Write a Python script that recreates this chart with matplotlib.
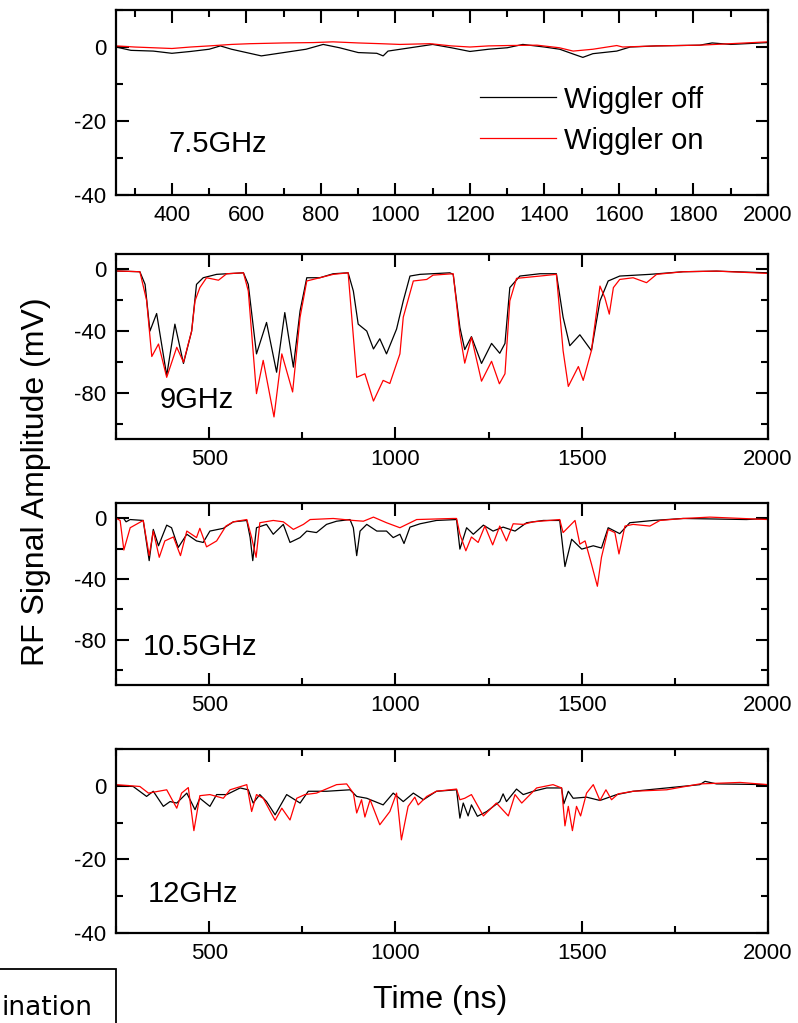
import matplotlib
matplotlib.use("Agg")
import matplotlib.pyplot as plt
from matplotlib.patches import Rectangle
from matplotlib.ticker import MultipleLocator

plt.rcParams['font.family'] = ['Liberation Sans', 'DejaVu Sans']
plt.rcParams['axes.unicode_minus'] = False

# ---- 7.5 GHz ----
t_75_off = [250, 290, 350, 400, 450, 500, 530, 560, 600, 640, 700, 760, 806, 850, 900, 950, 967, 980,
            1040, 1100, 1150, 1200, 1250, 1300, 1342, 1400, 1441, 1480, 1503, 1530, 1594, 1630, 1700,
            1817, 1850, 1900, 2000]
v_75_off = [0, -0.9, -1.1, -1.7, -1.2, -0.6, 0.3, -0.6, -1.5, -2.4, -1.5, -0.6, 0.7, -0.2, -1.5, -1.7, -2.4, -1.1,
            -0.2, 0.7, -0.2, -1.2, -0.6, -0.2, 0.7, 0, -0.6, -2.0, -2.8, -1.8, -1.1, 0, 0.3,
            0.5, 1.1, 0.7, 1.2]
t_75_on = [250, 300, 350, 400, 450, 500, 560, 610, 700, 780, 832, 900, 960, 1012, 1093, 1150, 1200, 1250,
           1300, 1380, 1440, 1477, 1530, 1594, 1610, 1700, 1817, 1900, 2000]
v_75_on = [0.3, 0, -0.2, -0.4, 0, 0.3, 0.7, 0.9, 1.1, 1.2, 1.4, 1.1, 0.9, 0.7, 0.9, 0.3, 0, 0.3,
           0.4, 0.5, -0.2, -1.1, -0.6, 0.4, 0, 0.3, 0.5, 0.9, 1.4]

# ---- 9 GHz ----
t_9_off = [250, 314, 328, 341, 359, 386, 408, 431, 453, 466, 484, 520, 592, 605, 627, 654, 681, 703, 726,
           744, 762, 797, 833, 873, 887, 900, 923, 941, 958, 976, 1003, 1021, 1039, 1066, 1146, 1155,
           1173, 1186, 1204, 1231, 1258, 1280, 1294, 1307, 1334, 1388, 1432, 1450, 1468, 1495, 1526,
           1549, 1571, 1602, 1683, 1772, 1862, 2000]
v_9_off = [-1, -1.5, -9.7, -40, -28.6, -68.8, -35.5, -61, -40, -9.7, -5.4, -3.2, -2.2, -9.7, -54.8, -34.4, -66.7, -28, -63.4,
           -26.9, -5.4, -5.4, -2.8, -2.2, -14, -35.5, -40, -51.6, -45, -54.8, -38.7, -20.4, -4.3, -3.2, -2.2, -3.2,
           -37.6, -52, -43.6, -61, -48, -54.4, -48, -11.8, -4.3, -2.8, -2.8, -31, -49.5, -42.4, -52.7,
           -20.4, -7.5, -4.3, -3.2, -1.5, -1.1, -2.2]
t_9_on = [250, 314, 332, 346, 364, 386, 413, 431, 453, 462, 475, 493, 525, 547, 592, 605, 627, 645, 674,
          695, 724, 744, 762, 797, 833, 873, 896, 918, 941, 967, 985, 1012, 1021, 1048, 1084, 1101,
          1155, 1173, 1186, 1204, 1231, 1258, 1279, 1294, 1307, 1325, 1388, 1432, 1450, 1464, 1491,
          1504, 1526, 1549, 1562, 1574, 1585, 1602, 1638, 1674, 1701, 1772, 1862, 2000]
v_9_on = [-1, -1.5, -20, -56.5, -48.4, -70, -50.5, -60.2, -40, -20.4, -11.8, -5.4, -7, -2.8, -2.2, -14, -80.6, -59, -95.7,
          -54.8, -79.5, -31, -7.5, -5.4, -3.2, -2.2, -70, -67.7, -85.4, -72, -74, -54.8, -31, -7.5, -6.5, -3.7,
          -2.8, -42, -60.8, -44, -72.5, -59.6, -74.2, -67.7, -20.4, -5.8, -4.3, -3.2, -52.7, -75.9, -63,
          -72, -52.7, -10.8, -18.3, -29, -11.8, -6.5, -5.4, -8.6, -3.2, -1.5, -1.1, -2.6]

# ---- 10.5 GHz ----
t_105_off = [250, 270, 277, 288, 323, 339, 350, 364, 386, 399, 417, 440, 466, 484, 502, 538, 565, 601,
             610, 617, 627, 654, 672, 699, 717, 744, 762, 788, 815, 842, 878, 887, 896, 905, 923, 950,
             976, 994, 1012, 1023, 1039, 1066, 1110, 1164, 1173, 1191, 1209, 1236, 1262, 1289, 1321,
             1352, 1397, 1441, 1455, 1473, 1500, 1531, 1553, 1571, 1602, 1629, 1692, 1772, 1942, 2000]
v_105_off = [0, 0, -2.4, -0.9, -1.5, -28, -7.4, -18.2, -4.6, -6.3, -19.3, -10.6, -15, -16, -8.5, -6.7, -2.4, -1.5,
             -12.8, -28, -6.3, -4.1, -10.6, -4.1, -16, -12.8, -8.5, -9.5, -4.1, -2, -0.9, -6.3, -24.7, -8.5, -4.1, -8.5,
             -8.5, -12.8, -10.6, -16.7, -5.9, -3.7, -1.5, -0.9, -20.4, -6.3, -10.6, -4.6, -8.5, -5.9, -8.5,
             -3, -1.5, -1.5, -31.9, -13.9, -20.4, -18.2, -19.7, -6.3, -10.2, -3, -1.5, -0.2, -0.9, -0.2]
t_105_on = [250, 261, 271, 288, 323, 339, 350, 366, 381, 404, 423, 440, 466, 475, 493, 520, 545, 565,
            601, 614, 626, 636, 672, 699, 726, 753, 771, 833, 887, 914, 941, 976, 1012, 1057, 1155,
            1164, 1173, 1189, 1204, 1222, 1240, 1261, 1280, 1298, 1316, 1343, 1370, 1441, 1450, 1482,
            1495, 1509, 1526, 1542, 1553, 1571, 1589, 1600, 1616, 1638, 1683, 1710, 1772, 1844, 2000]
v_105_on = [0, -1.5, -21, -6.3, -1.5, -24.7, -8.5, -25.8, -15, -12.4, -24.7, -8.5, -12.8, -6.7, -18.9, -15, -5.2, -2.4,
            -0.9, -12.8, -25.8, -3, -1.5, -2.4, -7.4, -4.1, -0.9, -0.2, -1.5, -2, 0.7, -3, -6.3, -0.9, -0.2,
            -0.2, -10.6, -21.5, -12.4, -16, -5.2, -17.6, -5.2, -15, -3.7, -4.1, -2.4, -0.9, -9.5, -1.5,
            -17.1, -15, -30.1, -44.9, -25.8, -7.4, -9.5, -23.6, -5.2, -4.1, -5.2, -1.5, -0.2, 0.7, -0.9]

# ---- 12 GHz ----
t_12_off = [250, 296, 332, 350, 377, 395, 413, 440, 462, 475, 502, 520, 547, 583, 605, 618, 636, 654,
            677, 708, 744, 766, 815, 878, 896, 923, 967, 994, 1021, 1048, 1075, 1110, 1164, 1173, 1182,
            1195, 1204, 1220, 1245, 1280, 1289, 1298, 1325, 1343, 1370, 1406, 1446, 1452, 1464, 1477,
            1513, 1549, 1594, 1638, 1728, 1817, 1831, 1862, 2000]
v_12_off = [0, -0.2, -2.9, -1.5, -5.6, -4.3, -4.7, -2, -6.5, -3.4, -5.6, -2.4, -2.4, -0.6, -1.1, -4.7, -2.4, -4.3,
            -7.9, -2.4, -4.7, -1.5, -1.5, -1.1, -2.9, -3.4, -5.2, -2, -4.3, -2, -3.8, -1.5, -1.1, -8.8, -4.7,
            -8.2, -5.2, -8.3, -7, -4.3, -2.2, -4.3, -0.9, -2.4, -1.5, -0.6, -0.6, -4.9, -1.5, -3.4,
            -3.1, -4, -2.4, -1.5, -0.6, 0.3, 1.2, 0.5, 0.3]
t_12_on = [250, 314, 337, 364, 386, 413, 426, 444, 459, 475, 502, 538, 556, 601, 614, 627, 645, 677,
           695, 717, 735, 757, 788, 842, 869, 887, 896, 909, 918, 932, 958, 985, 1003, 1016, 1034, 1052,
           1061, 1084, 1110, 1164, 1173, 1186, 1204, 1236, 1271, 1303, 1321, 1339, 1379, 1423, 1446,
           1455, 1464, 1475, 1486, 1497, 1513, 1531, 1549, 1565, 1580, 1598, 1638, 1728, 1817, 1925, 2000]
v_12_on = [0.3, -0.2, -2, -1.5, -1.1, -6.1, -2, -0.5, -12.2, -2.7, -2.4, -3.4, -1.1, 0.3, -7, -2.4, -3.4, -9.4,
           -6.1, -9.3, -3.4, -2.4, -2, 0.3, 0.5, -2, -7.4, -3.8, -8.5, -3.8, -10.6, -7, -2, -14.7, -5.6, -3.1,
           -5.2, -2.9, -1.5, -0.9, -3.8, -3.4, -2.4, -8.2, -4.7, -8.2, -2.4, -4.7, -0.6, 0.3, -0.6,
           -10.9, -5.6, -12.2, -5.6, -8.2, -2, 0.3, -4, -1.1, -3.8, -2.2, -1.5, -1.1, 0.5, 0.9, 0.3]

panels = [
    ("7.5GHz", t_75_off, v_75_off, t_75_on, v_75_on, (-40, 10), 20, 10, 200, 100, 0.232),
    ("9GHz", t_9_off, v_9_off, t_9_on, v_9_on, (-110, 10), 40, 20, 500, 250, 0.168),
    ("10.5GHz", t_105_off, v_105_off, t_105_on, v_105_on, (-110, 10), 40, 20, 500, 250, 0.165),
    ("12GHz", t_12_off, v_12_off, t_12_on, v_12_on, (-40, 10), 20, 10, 500, 250, 0.168),
]
label_x = [0.08, 0.067, 0.041, 0.049]

# axes boxes in figure fractions [left, bottom, width, height]
boxes = [
    [0.1454, 0.8094, 0.817, 0.1808],
    [0.1454, 0.5709, 0.817, 0.1808],
    [0.1454, 0.3304, 0.817, 0.1779],
    [0.1454, 0.0880, 0.817, 0.1799],
]

fig = plt.figure(figsize=(7.98, 10.23), dpi=100)

for i, (name, t_off, v_off, t_on, v_on, ylim, ymaj, ymin, xmaj, xmin, ly) in enumerate(panels):
    ax = fig.add_axes(boxes[i])
    ax.plot(t_off, v_off, color="black", lw=0.9, label="Wiggler off")
    ax.plot(t_on, v_on, color="red", lw=0.9, label="Wiggler on")
    ax.set_xlim(250, 2000)
    ax.set_ylim(*ylim)
    ax.xaxis.set_major_locator(MultipleLocator(xmaj))
    ax.xaxis.set_minor_locator(MultipleLocator(xmin))
    ax.yaxis.set_major_locator(MultipleLocator(ymaj))
    ax.yaxis.set_minor_locator(MultipleLocator(ymin))
    ax.tick_params(which="both", direction="in", top=True, right=True, width=1.5, labelsize=16, pad=7)
    ax.tick_params(which="major", length=9)
    ax.tick_params(which="minor", length=5)
    for s in ax.spines.values():
        s.set_linewidth(1.6)
    ax.text(label_x[i], ly, name, transform=ax.transAxes, fontsize=21, va="baseline", ha="left")
    if i == 0:
        ax.legend(loc="center left", bbox_to_anchor=(0.558, 0.405), frameon=False, fontsize=21,
                  handlelength=2.6, handletextpad=0.3, borderpad=0, borderaxespad=0, labelspacing=0.45)

fig.text(36 / 798, 1 - 482 / 1023, "RF Signal Amplitude (mV)", rotation=90, fontsize=23,
         ha="center", va="center")
fig.text(440 / 798, 1 - 1000 / 1023, "Time (ns)", fontsize=23, ha="center", va="center")

# clipped box in the lower left corner
fig.patches.append(Rectangle((-0.1, -0.1), 0.1 + 116 / 798, 0.1 + 1 - 969 / 1023, transform=fig.transFigure,
                             fill=False, edgecolor="black", lw=1.3))
fig.text(93 / 798, 1 - 1015 / 1023, "ination", fontsize=19, ha="right", va="baseline",
         family=["DejaVu Sans"])

fig.savefig("out.png", dpi=100)
